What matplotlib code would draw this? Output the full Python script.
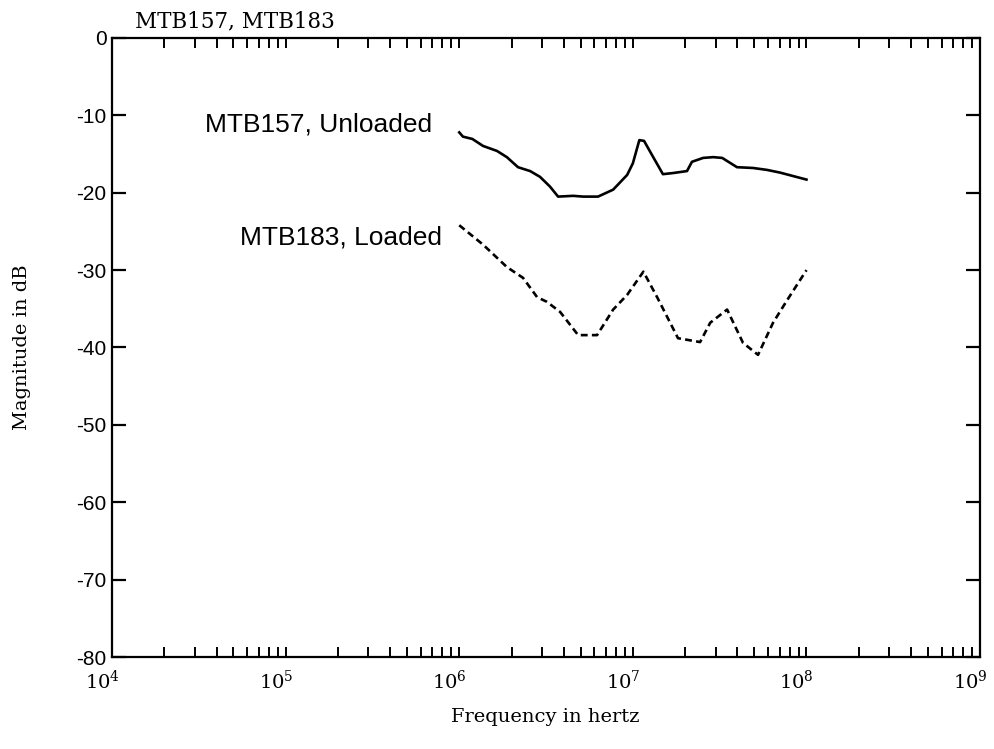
import matplotlib
matplotlib.use("Agg")
import matplotlib.pyplot as plt
import matplotlib.transforms as mtransforms
from matplotlib.ticker import FixedLocator, LogLocator, NullFormatter

# frequency (Hz) / magnitude (dB)
freq_unloaded = [1.0e6, 1.05e6, 1.19e6, 1.37e6, 1.65e6, 1.88e6, 2.18e6, 2.56e6, 2.92e6,
                 3.33e6, 3.71e6, 4.53e6, 5.17e6, 6.3e6, 7.7e6, 9.27e6, 1.0e7, 1.09e7,
                 1.16e7, 1.31e7, 1.49e7, 1.71e7, 2.05e7, 2.19e7, 2.54e7, 2.9e7, 3.27e7,
                 3.98e7, 4.92e7, 5.93e7, 7.05e7, 1.0e8]
mag_unloaded = [-12.2, -12.75, -13.05, -13.95, -14.6, -15.4, -16.7, -17.2, -17.95,
                -19.2, -20.5, -20.4, -20.5, -20.5, -19.6, -17.7, -16.2, -13.2,
                -13.3, -15.4, -17.6, -17.45, -17.2, -16.0, -15.5, -15.4, -15.5,
                -16.7, -16.8, -17.05, -17.4, -18.3]

freq_loaded = [1.0e6, 1.37e6, 1.88e6, 2.33e6, 2.81e6, 3.2e6, 3.81e6, 4.84e6, 6.22e6,
               7.7e6, 9.27e6, 1.15e7, 1.38e7, 1.82e7, 2.44e7, 2.79e7, 3.49e7, 4.31e7,
               5.26e7, 6.42e7, 7.73e7, 1.0e8]
mag_loaded = [-24.2, -26.7, -29.6, -31.0, -33.5, -34.1, -35.4, -38.4, -38.4,
              -35.1, -33.2, -30.2, -33.5, -38.8, -39.3, -36.8, -35.1, -39.4,
              -40.95, -36.8, -33.9, -30.0]

decades = [4, 5, 6, 7, 8, 9]
y_ticks = [0, -10, -20, -30, -40, -50, -60, -70, -80]

plt.rcParams['mathtext.fontset'] = 'dejavuserif'
plt.rcParams['mathtext.default'] = 'regular'

fig = plt.figure(figsize=(9.95, 7.49), dpi=100)
ax = fig.add_axes([0.1126, 0.1228, 0.8724, 0.8265])

ax.plot(freq_unloaded, mag_unloaded, color='black', lw=1.9)
ax.plot(freq_loaded, mag_loaded, color='black', lw=1.9, ls=(0, (2.6, 1.6)))

ax.set_xscale('log')
ax.set_xlim(10.0 ** decades[0], 10.0 ** decades[-1])
ax.set_ylim(-80, 0)

ax.xaxis.set_major_locator(FixedLocator([10.0 ** d for d in decades]))
ax.set_xticklabels([f'10$^{{{d}}}$' for d in decades], family='DejaVu Serif', fontsize=14)
ax.xaxis.set_minor_locator(LogLocator(base=10, subs=range(2, 10)))
ax.xaxis.set_minor_formatter(NullFormatter())

ax.set_yticks(y_ticks)
ax.set_yticklabels([str(v) for v in y_ticks], family='Liberation Sans', fontsize=15)

ax.tick_params(axis='x', which='both', direction='in', top=True, bottom=True,
               length=7, width=1.4, pad=9)
ax.tick_params(axis='y', which='both', direction='in', left=True, right=True,
               length=10, width=1.6, pad=4)

# the scanned labels sit a little left of their ticks
shift = mtransforms.ScaledTranslation(-7 / 72, 0, fig.dpi_scale_trans)
for lab in ax.get_xticklabels():
    lab.set_transform(lab.get_transform() + shift)

for s in ax.spines.values():
    s.set_linewidth(1.6)

ax.text(10 ** 5.843, -11.2, 'MTB157, Unloaded', ha='right', va='center',
        family='Liberation Sans', fontsize=19)
ax.text(10 ** 5.901, -25.8, 'MTB183, Loaded', ha='right', va='center',
        family='Liberation Sans', fontsize=19)

fig.text(135 / 995, 1 - 27 / 749, 'MTB157, MTB183', ha='left', va='baseline',
         family='DejaVu Serif', fontsize=15.5)
fig.text(22 / 995, 0.5 * (0.1228 + 0.9493), 'Magnitude in dB', rotation=90,
         ha='center', va='center', family='DejaVu Serif', fontsize=14)
fig.text(545 / 995, 1 - 717 / 749, 'Frequency in hertz', ha='center', va='center',
         family='DejaVu Serif', fontsize=14)

fig.savefig('out.png', dpi=100)
